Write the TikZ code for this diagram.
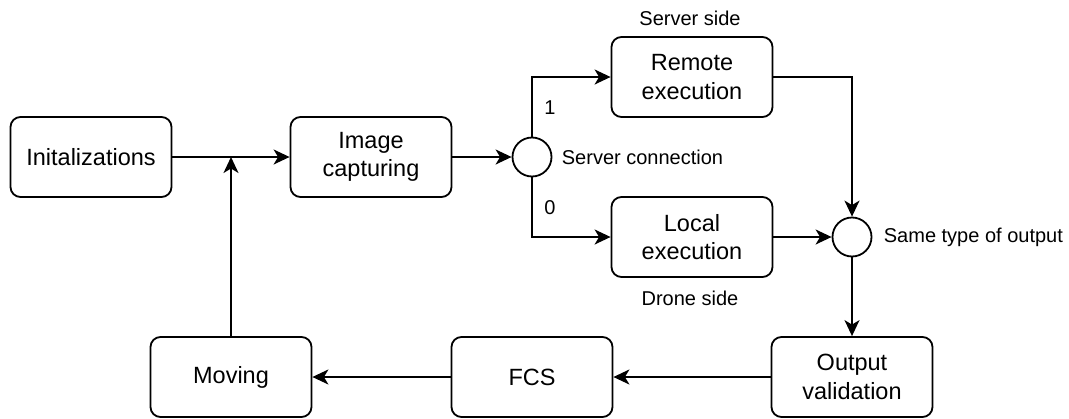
\documentclass[tikz,border=0pt]{standalone}
\usepackage{fontspec}
\setmainfont{Liberation Sans}
\usetikzlibrary{arrows.meta}

\begin{document}
\begin{tikzpicture}[x=1pt,y=-1pt,
  line width=1.8pt,
  block/.style={draw, rounded corners=10pt, minimum width=161pt, minimum height=80pt,
    align=center, inner sep=0pt, font=\fontsize{23.5}{28.5}\selectfont},
  junction/.style={draw, circle, minimum size=39pt, inner sep=0pt},
  lbl/.style={inner sep=0pt, font=\fontsize{20}{24}\selectfont},
  flow/.style={-{Stealth[length=16pt,width=15pt,inset=4.5pt]}}
]
\useasboundingbox (0,0) rectangle (1069,418);

% main blocks
\node[block] (init)   at (91,157)  {Initalizations};
\node[block] (cap)    at (371,157) {Image\\capturing};
\node[block] (remote) at (692,77)  {Remote\\execution};
\node[block] (local)  at (692,237) {Local\\execution};
\node[block] (valid)  at (852,377) {Output\\validation};
\node[block] (fcs)    at (532,377) {FCS};
\node[block] (move)   at (231,377) {Moving};

% decision / merge points
\node[junction] (conn) at (532,157) {};
\node[junction] (same) at (852,237) {};

% annotations
\node[lbl, anchor=west] (conntxt) at (561,157) {Server connection};
\node[lbl, anchor=west] (sametxt) at (883,237) {Same type of output};
\node[lbl] (srvside) at (690,18)  {Server side};
\node[lbl] (drnside) at (690,298) {Drone side};
\node[lbl] (one)  at (550,108) {1};
\node[lbl] (zero) at (550,208) {0};

% connectors
\coordinate (merge) at (231,157);
\draw[flow] (init) -- (cap);
\draw[flow] (move.north) -- (merge);
\draw[flow] (cap) -- (conn);
\draw[flow] (conn.north) |- (remote.west);
\draw[flow] (conn.south) |- (local.west);
\draw[flow] (remote.east) -| (same.north);
\draw[flow] (local) -- (same);
\draw[flow] (same.south) -- (valid.north);
\draw[flow] (valid) -- (fcs);
\draw[flow] (fcs) -- (move);
\end{tikzpicture}
\end{document}
